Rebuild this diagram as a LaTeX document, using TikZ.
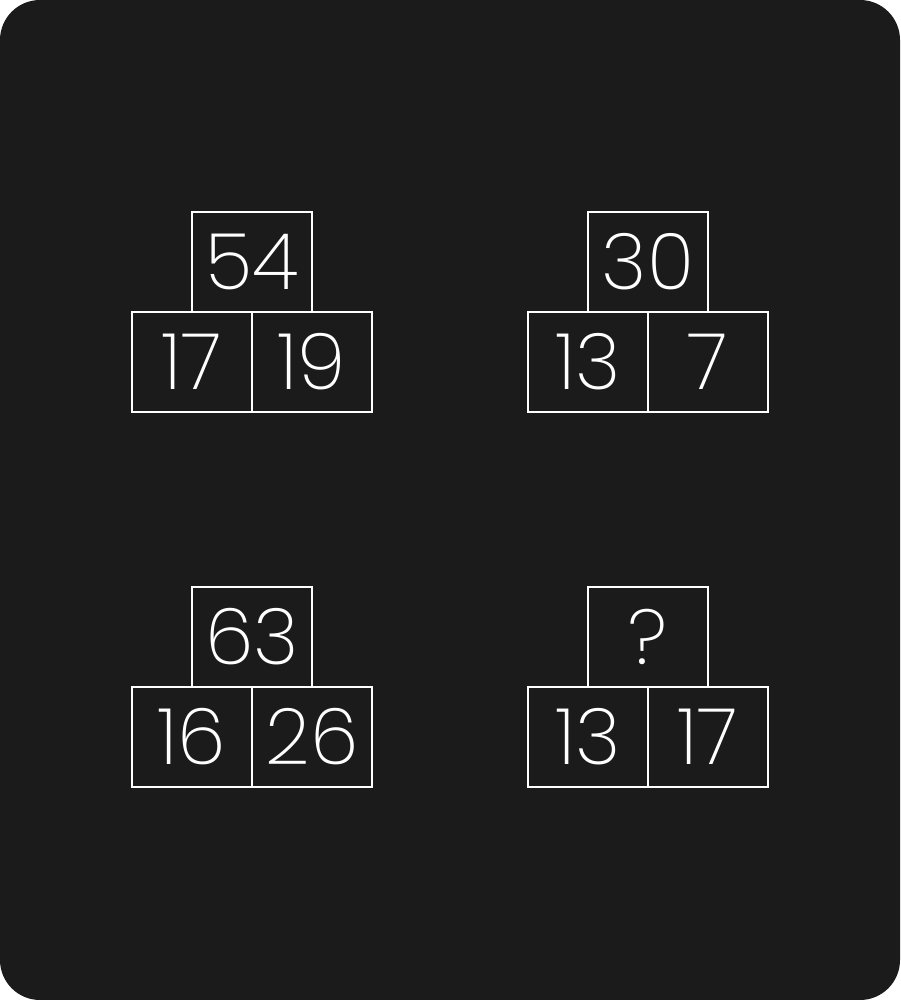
\documentclass[tikz,border=0pt]{standalone}
\usepackage{fontspec}
\setmainfont{Poppins}[UprightFont={* ExtraLight}]
\begin{document}
\begin{tikzpicture}[x=1pt,y=-1pt,
  cell/.style={draw=white,line width=2pt,minimum width=120pt,minimum height=100pt,inner sep=0pt,outer sep=0pt,text=white,font=\fontsize{78}{90}\selectfont}]
\useasboundingbox (0,0) rectangle (900,1000);
\fill[white] (0,0) rectangle (900,1000);
\fill[rounded corners=40pt,fill={rgb,255:red,27;green,27;blue,27}] (0,0) rectangle (900,1000);
% group 1
\node[cell] (a1) at (252,262) {54};
\node[cell] (a2) at (191.5,362) {17};
\node[cell] (a3) at (312,362) {19};
% group 2
\node[cell] (b1) at (648,262) {30};
\node[cell] (b2) at (588,362) {13};
\node[cell] (b3) at (708,362) {7};
% group 3
\node[cell] (c1) at (252,637) {63};
\node[cell] (c2) at (191.5,737) {16};
\node[cell] (c3) at (312,737) {26};
% group 4
\node[cell] (d1) at (648,637) {?};
\node[cell] (d2) at (588,737) {13};
\node[cell] (d3) at (708,737) {17};
\end{tikzpicture}
\end{document}
